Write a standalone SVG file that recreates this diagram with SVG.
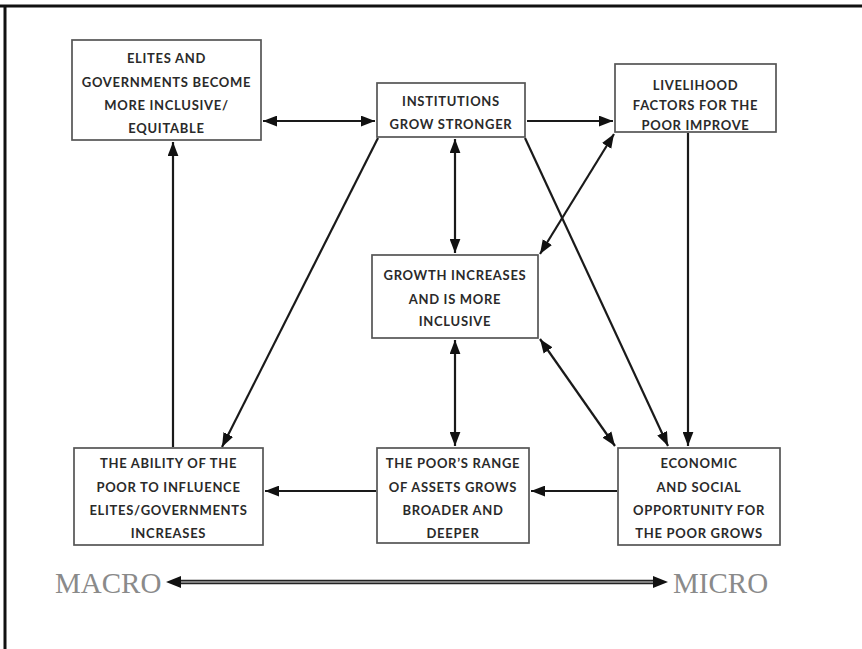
<svg xmlns="http://www.w3.org/2000/svg" width="862" height="649" viewBox="0 0 862 649">
<defs>
<marker id="ah" markerUnits="userSpaceOnUse" markerWidth="14" markerHeight="11" refX="13" refY="5" orient="auto-start-reverse" viewBox="0 0 13 10">
<path d="M0,0 L13,5 L0,10 z" fill="#111"/>
</marker>
<style>
.box{fill:#fff;stroke:#555;stroke-width:1.7}
.t{font-family:Lato,"Open Sans","Liberation Sans",sans-serif;font-weight:bold;font-size:13px;fill:#2a2a2a;text-anchor:middle;letter-spacing:0.7px}
.c{stroke:#1a1a1a;stroke-width:2.2;fill:none}
.ma{font-family:"Liberation Serif","DejaVu Serif",serif;font-size:29px;fill:#8a8a8a}
</style>
</defs>
<rect width="862" height="649" fill="#fff"/>
<g id="frame">
<line x1="0" y1="6" x2="862" y2="6" stroke="#111" stroke-width="3"/>
<line x1="5" y1="6" x2="5" y2="649" stroke="#111" stroke-width="3"/>
</g>
<g id="connectors">
<line class="c" x1="263" y1="121" x2="375" y2="121" marker-start="url(#ah)" marker-end="url(#ah)"/>
<line class="c" x1="527" y1="121" x2="613" y2="121" marker-end="url(#ah)"/>
<line class="c" x1="455" y1="139" x2="455" y2="253" marker-start="url(#ah)" marker-end="url(#ah)"/>
<line class="c" x1="614" y1="134" x2="540" y2="254" marker-start="url(#ah)" marker-end="url(#ah)"/>
<line class="c" x1="378" y1="138" x2="222" y2="447" marker-end="url(#ah)"/>
<line class="c" x1="525" y1="138" x2="668" y2="446" marker-end="url(#ah)"/>
<line class="c" x1="688" y1="133" x2="688" y2="446" marker-end="url(#ah)"/>
<line class="c" x1="540" y1="339" x2="615" y2="446" marker-start="url(#ah)" marker-end="url(#ah)"/>
<line class="c" x1="455" y1="340" x2="455" y2="446" marker-start="url(#ah)" marker-end="url(#ah)"/>
<line class="c" x1="617" y1="491" x2="531" y2="491" marker-end="url(#ah)"/>
<line class="c" x1="376" y1="491" x2="265" y2="491" marker-end="url(#ah)"/>
<line class="c" x1="173" y1="447" x2="173" y2="142" marker-end="url(#ah)"/>
</g>
<g id="elites">
<rect class="box" x="72" y="40" width="189" height="100"/>
<text class="t" x="166.5" y="63">ELITES AND</text>
<text class="t" x="166.5" y="87">GOVERNMENTS BECOME</text>
<text class="t" x="166.5" y="110">MORE INCLUSIVE/</text>
<text class="t" x="166.5" y="133">EQUITABLE</text>
</g>
<g id="institutions">
<rect class="box" x="377" y="83" width="148" height="54"/>
<text class="t" x="451" y="106">INSTITUTIONS</text>
<text class="t" x="451" y="129">GROW STRONGER</text>
</g>
<g id="livelihood">
<rect class="box" x="615" y="64" width="161" height="68"/>
<text class="t" x="695.5" y="90">LIVELIHOOD</text>
<text class="t" x="695.5" y="110">FACTORS FOR THE</text>
<text class="t" x="695.5" y="130">POOR IMPROVE</text>
</g>
<g id="growth">
<rect class="box" x="372" y="255" width="166" height="83"/>
<text class="t" x="455" y="280">GROWTH INCREASES</text>
<text class="t" x="455" y="304">AND IS MORE</text>
<text class="t" x="455" y="326">INCLUSIVE</text>
</g>
<g id="ability">
<rect class="box" x="74" y="448" width="189" height="97"/>
<text class="t" x="168.5" y="468">THE ABILITY OF THE</text>
<text class="t" x="168.5" y="492">POOR TO INFLUENCE</text>
<text class="t" x="168.5" y="515">ELITES/GOVERNMENTS</text>
<text class="t" x="168.5" y="538">INCREASES</text>
</g>
<g id="assets">
<rect class="box" x="377" y="448" width="152" height="95"/>
<text class="t" x="453" y="468">THE POOR’S RANGE</text>
<text class="t" x="453" y="492">OF ASSETS GROWS</text>
<text class="t" x="453" y="515">BROADER AND</text>
<text class="t" x="453" y="538">DEEPER</text>
</g>
<g id="economic">
<rect class="box" x="618" y="448" width="162" height="97"/>
<text class="t" x="699" y="468">ECONOMIC</text>
<text class="t" x="699" y="492">AND SOCIAL</text>
<text class="t" x="699" y="515">OPPORTUNITY FOR</text>
<text class="t" x="699" y="538">THE POOR GROWS</text>
</g>
<g id="scale">
<text class="ma" x="55" y="593">MACRO</text>
<text class="ma" x="673" y="593">MICRO</text>
<line x1="176" y1="582" x2="658" y2="582" stroke="#222" stroke-width="4.5"/>
<line x1="176" y1="582" x2="658" y2="582" stroke="#ddd" stroke-width="1.2"/>
<path d="M166,582 L181,576 L181,588 z" fill="#111"/>
<path d="M668,582 L653,576 L653,588 z" fill="#111"/>
</g>
</svg>
